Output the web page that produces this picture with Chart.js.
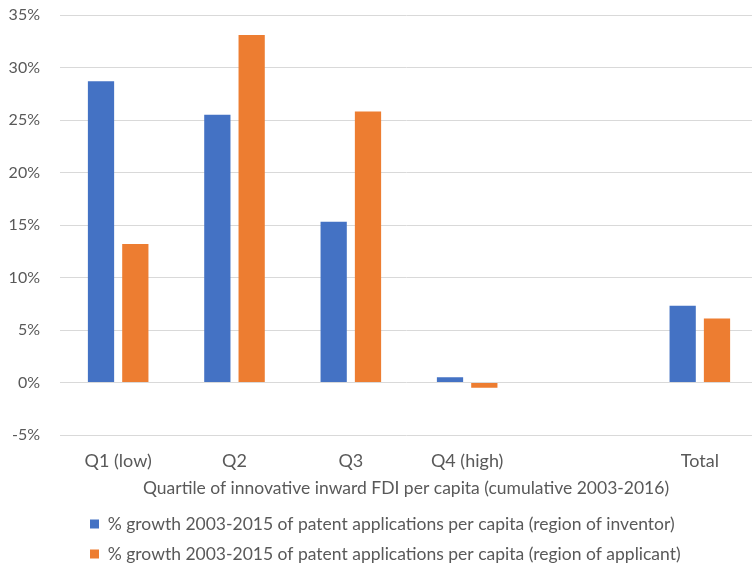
<!DOCTYPE html>
<html>
<head>
<meta charset="utf-8">
<script src="https://cdn.jsdelivr.net/npm/chart.js@4/dist/chart.umd.min.js"></script>
<style>
  html, body { margin: 0; padding: 0; background: #ffffff; }
  #wrap { width: 752px; height: 565px; }
</style>
</head>
<body>
<div id="wrap"><canvas id="chart" width="752" height="565"></canvas></div>
<script>
// Categories (one blank slot separates the quartiles from the total)
const categories = ['Q1 (low)', 'Q2', 'Q3', 'Q4 (high)', '', 'Total'];

// % growth 2003-2015 of patent applications per capita
const inventorGrowth = [28.7, 25.5, 15.3, 0.5, null, 7.3];
const applicantGrowth = [13.2, 33.1, 25.8, -0.5, null, 6.1];

const seriesLabels = [
  '% growth 2003-2015 of patent applications per capita (region of inventor)',
  '% growth 2003-2015 of patent applications per capita (region of applicant)'
];
const axisTitle = 'Quartile of innovative inward FDI per capita (cumulative 2003-2016)';
const yTicks = [-5, 0, 5, 10, 15, 20, 25, 30, 35];

const FONT = 'Lato, "Noto Sans", sans-serif';
const TEXT = '#595959';
const PLOT_RIGHT = 758; // plot area runs slightly past the right canvas edge

// Widens the plot area, centres the axis title under it and indents the legend
const blockShift = {
  id: 'blockShift',
  afterLayout(chart) {
    const area = chart.chartArea;
    area.right = PLOT_RIGHT;
    area.width = area.right - area.left;
    const xs = chart.scales.x;
    xs.right = PLOT_RIGHT;
    xs.width = xs.right - xs.left;
    xs.configure();

    const t = chart.titleBlock;
    if (t) { t.left = area.left; t.right = 752; t.width = t.right - t.left; }
    const l = chart.legend;
    if (l) { l.left = 77.5; }
  }
};

new Chart(document.getElementById('chart'), {
  type: 'bar',
  data: {
    labels: categories,
    datasets: [
      {
        label: seriesLabels[0],
        data: inventorGrowth,
        backgroundColor: '#4472C4',
        borderWidth: 0
      },
      {
        label: seriesLabels[1],
        data: applicantGrowth,
        backgroundColor: '#ED7D31',
        borderWidth: 0
      }
    ]
  },
  plugins: [blockShift],
  options: {
    responsive: false,
    animation: false,
    devicePixelRatio: 1,
    layout: { padding: { top: 0, right: 0, bottom: -7.75, left: 0 } },
    datasets: {
      bar: { categoryPercentage: 0.59, barPercentage: 0.765 }
    },
    scales: {
      x: {
        grid: { display: false, drawTicks: true, tickLength: 9.5 },
        border: { display: false },
        ticks: {
          color: TEXT,
          font: { family: FONT, size: 18 },
          padding: 5.7,
          maxRotation: 0,
          autoSkip: false
        }
      },
      y: {
        min: -5,
        max: 35,
        afterBuildTicks(scale) {
          scale.ticks = yTicks.map(v => ({ value: v }));
        },
        afterFit(scale) {
          scale.width = 60;
          scale.paddingTop = 15;
          scale.paddingBottom = 0;
        },
        grid: { color: '#d9d9d9', lineWidth: 1, drawTicks: false },
        border: { display: false },
        ticks: {
          color: TEXT,
          font: { family: FONT, size: 16 },
          padding: 20,
          callback: v => v + '%'
        }
      }
    },
    plugins: {
      title: {
        display: true,
        position: 'bottom',
        weight: 500,
        align: 'center',
        text: axisTitle,
        color: TEXT,
        font: { family: FONT, size: 17.5, weight: 'normal' },
        padding: { top: 0, bottom: 4.25 }
      },
      legend: {
        position: 'bottom',
        align: 'start',
        labels: {
          color: TEXT,
          font: { family: FONT, size: 17.5 },
          boxWidth: 9,
          boxHeight: 9,
          padding: 12.5
        }
      },
      tooltip: { enabled: false }
    }
  }
});
</script>
</body>
</html>
